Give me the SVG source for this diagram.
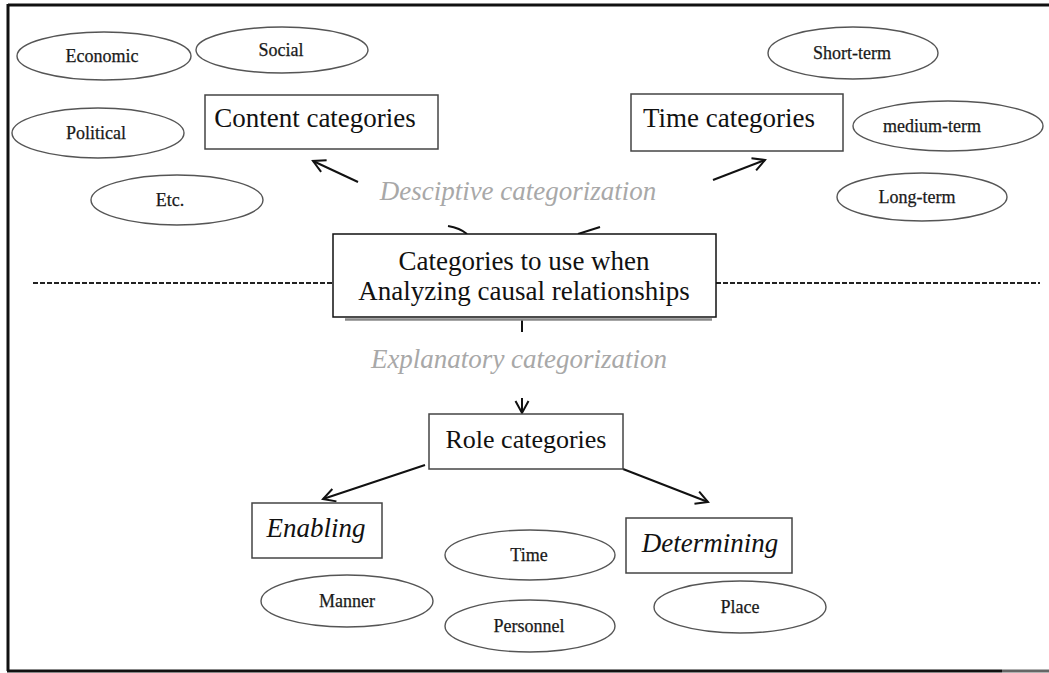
<svg xmlns="http://www.w3.org/2000/svg" width="1049" height="673" viewBox="0 0 1049 673">
<style>
  .ell { fill: #fff; stroke: #555; stroke-width: 1.4; }
  .box { fill: #fff; stroke: #444; stroke-width: 1.5; }
  .small { font-family: "Liberation Serif", "Times New Roman", serif; font-size: 18px; fill: #1a1a1a; stroke: #1a1a1a; stroke-width: 0.25; text-anchor: middle; }
  .big { font-family: "Liberation Serif", "Times New Roman", serif; font-size: 27px; fill: #111; text-anchor: middle; }
  .ital { font-family: "Liberation Serif", "Times New Roman", serif; font-size: 27px; font-style: italic; fill: #111; text-anchor: middle; }
  .grey { font-family: "Liberation Serif", "Times New Roman", serif; font-size: 27px; font-style: italic; fill: #a8a8a8; text-anchor: middle; }
  .conn { stroke: #111; stroke-width: 2; fill: none; }
  .dash { stroke: #222; stroke-width: 2; stroke-dasharray: 5 2; fill: none; }
</style>
<defs>
  <marker id="arr" markerUnits="userSpaceOnUse" markerWidth="20" markerHeight="20" refX="13" refY="7.5" orient="auto">
    <path d="M1,1 L13,7.5 L1,14" fill="none" stroke="#111" stroke-width="2"/>
  </marker>
</defs>
<rect width="1049" height="673" fill="#fff"/>
<g id="frame" stroke="#111" stroke-width="3" fill="none">
  <line x1="8" y1="5" x2="1049" y2="5"/>
  <line x1="8" y1="4" x2="8" y2="671"/>
  <line x1="7" y1="671" x2="1002" y2="671"/>
  <line x1="1002" y1="671" x2="1049" y2="671" stroke="#666"/>
</g>
<g id="divider">
  <line class="dash" x1="33" y1="283" x2="333" y2="283"/>
  <line class="dash" x1="716" y1="283" x2="1040" y2="283"/>
</g>
<g id="connectors">
  <line class="conn" x1="358" y1="182" x2="313" y2="161" marker-end="url(#arr)"/>
  <path class="conn" d="M448,226 Q460,228 467,234"/>
  <line class="conn" x1="713" y1="180" x2="765" y2="160" marker-end="url(#arr)"/>
  <line class="conn" x1="578" y1="234" x2="600" y2="227"/>
  <line class="conn" x1="522" y1="320" x2="522" y2="332"/>
  <line class="conn" x1="522" y1="398" x2="522" y2="413" marker-end="url(#arr)"/>
  <line class="conn" x1="425" y1="465" x2="323" y2="499" marker-end="url(#arr)"/>
  <line class="conn" x1="623" y1="469" x2="708" y2="502" marker-end="url(#arr)"/>
</g>
<g id="labels">
  <text class="grey" x="518" y="200">Desciptive categorization</text>
  <text class="grey" x="519" y="368">Explanatory categorization</text>
</g>
<g id="economic"><ellipse class="ell" cx="104" cy="56" rx="87" ry="24"/><text class="small" x="102" y="62">Economic</text></g>
<g id="social"><ellipse class="ell" cx="282" cy="50" rx="86" ry="23"/><text class="small" x="281" y="56">Social</text></g>
<g id="political"><ellipse class="ell" cx="98" cy="133" rx="86" ry="25"/><text class="small" x="96" y="139">Political</text></g>
<g id="etc"><ellipse class="ell" cx="177" cy="200" rx="86" ry="25"/><text class="small" x="170" y="206">Etc.</text></g>
<g id="content"><rect class="box" x="205" y="95" width="233" height="54"/><text class="big" x="315" y="127">Content categories</text></g>
<g id="short"><ellipse class="ell" cx="853" cy="53" rx="85" ry="26"/><text class="small" x="852" y="59">Short-term</text></g>
<g id="time-cat"><rect class="box" x="631" y="94" width="212" height="57"/><text class="big" x="729" y="127">Time categories</text></g>
<g id="medium"><ellipse class="ell" cx="948" cy="126" rx="95" ry="25"/><text class="small" x="932" y="132">medium-term</text></g>
<g id="long"><ellipse class="ell" cx="922" cy="197" rx="85" ry="24"/><text class="small" x="917" y="203">Long-term</text></g>
<g id="center">
  <line x1="345" y1="319.5" x2="712" y2="319.5" stroke="#888" stroke-width="2.5"/>
  <rect x="333" y="234" width="383" height="83" fill="#fff" stroke="#111" stroke-width="1.5"/>
  <text class="big" x="524" y="270">Categories to use when</text>
  <text class="big" x="524" y="300">Analyzing causal relationships</text>
</g>
<g id="role"><rect class="box" x="429" y="414" width="194" height="55"/><text class="big" x="526" y="448" style="font-size:26px">Role categories</text></g>
<g id="enabling"><rect class="box" x="252" y="503" width="130" height="55"/><text class="ital" x="316" y="537">Enabling</text></g>
<g id="determining"><rect class="box" x="626" y="518" width="166" height="55"/><text class="ital" x="710" y="552">Determining</text></g>
<g id="time"><ellipse class="ell" cx="530" cy="555" rx="85" ry="25"/><text class="small" x="529" y="561">Time</text></g>
<g id="manner"><ellipse class="ell" cx="347" cy="601" rx="86" ry="26"/><text class="small" x="347" y="607">Manner</text></g>
<g id="personnel"><ellipse class="ell" cx="530" cy="626" rx="85" ry="26"/><text class="small" x="529" y="632">Personnel</text></g>
<g id="place"><ellipse class="ell" cx="740" cy="607" rx="86" ry="26"/><text class="small" x="740" y="613">Place</text></g>
</svg>
